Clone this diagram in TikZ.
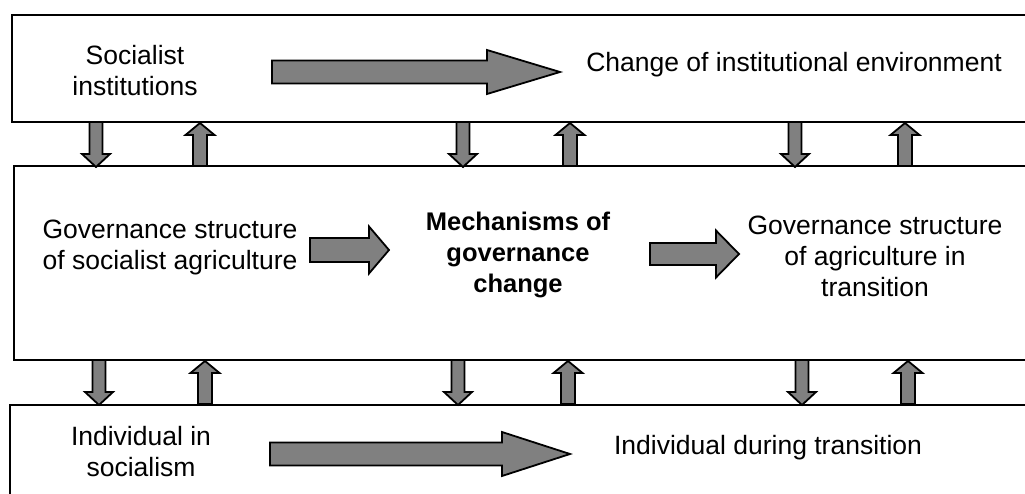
\documentclass[tikz,border=0pt]{standalone}
\usepackage{fontspec}
\setmainfont{Liberation Sans}
\tikzset{
	layer/.style = {draw, line width = 2pt},
	caption/.style = {align = center, inner sep = 0pt, font = \fontsize{26.5}{31}\selectfont},
	fat arrow/.style = {draw, fill = gray, line width = 1.8pt, line join = miter},
}
\begin{document}
\begin{tikzpicture}[x = 1pt, y = -1pt]
	\clip (0,0) rectangle (1025,494);
	% the three layers, open to the right
	\draw [layer] (12,15) rectangle (1040,122);
	\draw [layer] (14,166) rectangle (1040,360);
	\draw [layer] (10,405) rectangle (1040,520);
	% texts
	\node [caption] (socinst) at (135,71) {Socialist\\institutions};
	\node [caption] (envchange) at (794,65) {Change of institutional environment};
	\node [caption] (govsoc) at (170,247) {Governance structure\\of socialist agriculture};
	\node [caption, font = \fontsize{25.5}{31}\selectfont\bfseries] (mech) at (518,255) {Mechanisms of\\governance\\change};
	\node [caption] (govtrans) at (875,256) {Governance structure\\of agriculture in\\transition};
	\node [caption] (indsoc) at (141,452) {Individual in\\socialism};
	\node [caption] (indtrans) at (768,448) {Individual during transition};
	% horizontal block arrows
	\foreach \xa/\xb/\xc/\ym/\sh/\hh in {272/487/560/72/11.5/22, 270/502/570/454/11.5/22, 310/369/389/250/12/23.5, 650/716/739/254/11/23.5}{
	\draw [fat arrow] (\xa,\ym-\sh) -- (\xb,\ym-\sh) -- (\xb,\ym-\hh) -- (\xc,\ym) -- (\xb,\ym+\hh) -- (\xb,\ym+\sh) -- (\xa,\ym+\sh) -- cycle;
	}
	% downward arrows between the layers
	\foreach \x/\yt in {96/122, 463/122, 795/122, 99/360, 458/360, 802/360}{
	\draw [fat arrow] (\x-6.5,\yt) -- (\x+6.5,\yt) -- (\x+6.5,\yt+32) -- (\x+14,\yt+32) -- (\x,\yt+45) -- (\x-14,\yt+32) -- (\x-6.5,\yt+32) -- cycle;
	}
	% upward arrows between the layers
	\foreach \x/\yt in {200/122, 570/122, 905/122, 205/360, 568/360, 908/360}{
	\draw [fat arrow] (\x-7,\yt+44) -- (\x+7,\yt+44) -- (\x+7,\yt+13) -- (\x+14.5,\yt+13) -- (\x,\yt+1) -- (\x-14.5,\yt+13) -- (\x-7,\yt+13) -- cycle;
	}
\end{tikzpicture}
\end{document}
